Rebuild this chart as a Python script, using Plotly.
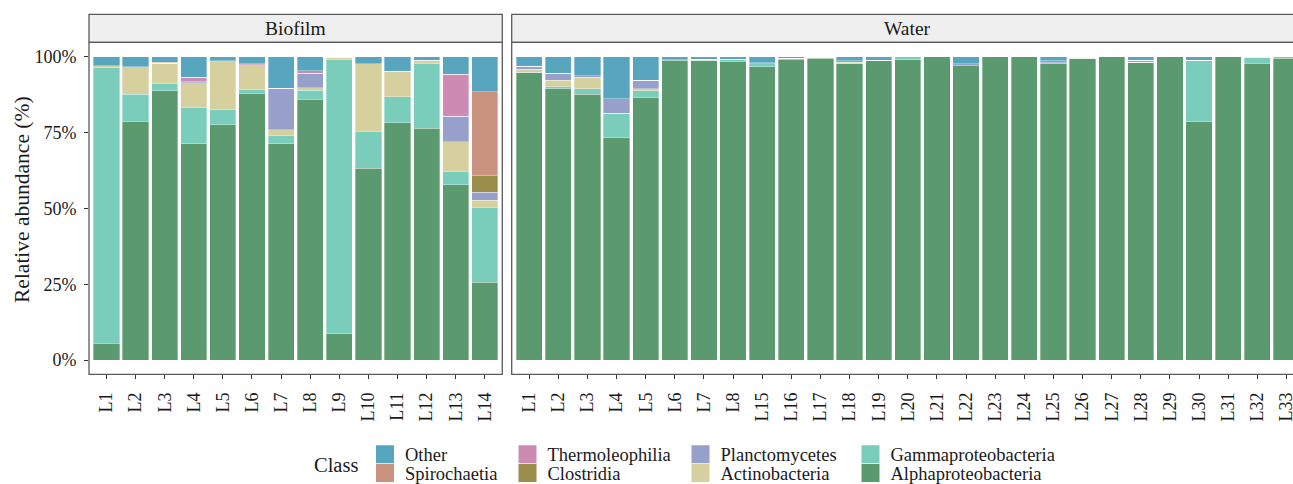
import plotly.graph_objects as go

# ---------------- data ----------------
classes = ["Alphaproteobacteria", "Gammaproteobacteria", "Actinobacteria", "Planctomycetes",
           "Clostridia", "Thermoleophilia", "Spirochaetia", "Other"]
colors = {
    "Alphaproteobacteria": "#5B9A6E",
    "Gammaproteobacteria": "#7BCDBB",
    "Actinobacteria": "#D6D09F",
    "Planctomycetes": "#979FCB",
    "Clostridia": "#9A8D4A",
    "Thermoleophilia": "#CD8BB4",
    "Spirochaetia": "#C9937F",
    "Other": "#58A5C0",
}

bio_samples = ["L1", "L2", "L3", "L4", "L5", "L6", "L7", "L8", "L9", "L10", "L11", "L12", "L13", "L14"]
bio_alpha = [5.5, 78.8, 88.7, 71.3, 77.6, 88.0, 71.3, 86.0, 8.6, 63.3, 78.2, 76.4, 57.8, 25.7]
bio_gamma = [91.0, 8.9, 2.4, 12.1, 5.1, 1.1, 2.8, 2.9, 90.4, 11.9, 8.6, 21.4, 4.2, 24.6]
bio_actino = [0.6, 9.0, 6.7, 8.0, 15.9, 8.2, 1.9, 0.8, 0.8, 22.4, 8.4, 0.9, 9.9, 2.4]
bio_plancto = [0, 0, 0, 0.3, 0, 0, 13.6, 4.8, 0, 0, 0, 0, 8.5, 2.6]
bio_clostr = [0, 0, 0, 0, 0, 0, 0, 0, 0, 0, 0, 0, 0, 5.4]
bio_thermo = [0, 0, 0, 1.6, 0, 0.3, 0, 0.8, 0, 0, 0, 0.2, 13.8, 0]
bio_spiro = [0, 0, 0.3, 0, 0, 0, 0, 0, 0, 0, 0, 0, 0, 27.7]
bio_other = [2.9, 3.3, 1.9, 6.7, 1.4, 2.4, 10.4, 4.7, 0.2, 2.4, 4.8, 1.1, 5.8, 11.6]

wat_samples = ["L1", "L2", "L3", "L4", "L5", "L6", "L7", "L8", "L15", "L16", "L17", "L18", "L19",
               "L20", "L21", "L22", "L23", "L24", "L25", "L26", "L27", "L28", "L29", "L30", "L31",
               "L32", "L33"]
wat_alpha = [94.8, 89.5, 87.7, 73.3, 86.4, 98.8, 98.8, 98.5, 96.7, 99.0, 99.5, 97.6, 98.6,
             99.0, 100, 97.1, 100, 100, 97.7, 99.5, 100, 98.2, 100, 78.5, 100, 97.8, 99.5]
wat_gamma = [0, 0.6, 1.8, 8.1, 2.3, 0.2, 0, 0.6, 0.9, 0, 0.3, 0, 0.3,
             1.0, 0, 0, 0, 0, 0.3, 0, 0, 0, 0, 20.1, 0, 2.0, 0.5]
wat_actino = [1.1, 2.2, 3.7, 0, 0.8, 0, 0.4, 0, 0, 0, 0, 0.6, 0,
              0, 0, 0, 0, 0, 0, 0, 0, 0, 0, 0.3, 0, 0, 0]
wat_plancto = [1.0, 2.2, 0.6, 4.8, 2.8, 0, 0, 0, 0.4, 0.5, 0, 0.5, 0,
               0, 0, 0.6, 0, 0, 0.6, 0.3, 0, 0.6, 0, 0, 0, 0.2, 0]
wat_clostr = [0] * 27
wat_thermo = [0] * 27
wat_spiro = [0] * 27
wat_other = [3.1, 5.5, 6.2, 13.8, 7.7, 1.0, 0.8, 0.9, 2.0, 0.5, 0.2, 1.3, 1.1,
             0, 0, 2.3, 0, 0, 1.4, 0.2, 0, 1.2, 0, 1.1, 0, 0, 0]

bio_values = {"Alphaproteobacteria": bio_alpha, "Gammaproteobacteria": bio_gamma,
              "Actinobacteria": bio_actino, "Planctomycetes": bio_plancto,
              "Clostridia": bio_clostr, "Thermoleophilia": bio_thermo,
              "Spirochaetia": bio_spiro, "Other": bio_other}
wat_values = {"Alphaproteobacteria": wat_alpha, "Gammaproteobacteria": wat_gamma,
              "Actinobacteria": wat_actino, "Planctomycetes": wat_plancto,
              "Clostridia": wat_clostr, "Thermoleophilia": wat_thermo,
              "Spirochaetia": wat_spiro, "Other": wat_other}

y_ticks = [0, 25, 50, 75, 100]
y_ticktext = ["0%", "25%", "50%", "75%", "100%"]

# legend layout: column-major order as in the reference
legend_order = ["Other", "Spirochaetia", "Thermoleophilia", "Clostridia",
                "Planctomycetes", "Actinobacteria", "Gammaproteobacteria", "Alphaproteobacteria"]

# ---------------- geometry (pixels) ----------------
W, H = 1293, 484
FONT = "'Liberation Serif', 'Times New Roman', Times, serif"
TXT = "#1a1a1a"
BORDER = "#5a5a5a"

def px_x(p):
    return p / W

def px_y(p):
    return 1 - p / H

bio_x0, bio_x1 = 89.0, 502.3
wat_x0, wat_x1 = 511.7, 1303.9
pan_top, pan_bot = 42.3, 374.3
strip_top = 14.3

fig = go.Figure()

legend_names = ["legend"] + ["legend%d" % i for i in range(2, 9)]
leg_of = {c: legend_names[i] for i, c in enumerate(legend_order)}

for c in classes:
    fig.add_trace(go.Bar(
        x=bio_samples, y=bio_values[c], name=c, marker_color=colors[c],
        marker_line=dict(color="rgba(255,255,255,0.55)", width=0.6),
        xaxis="x", yaxis="y", showlegend=False, width=0.9,
    ))
    fig.add_trace(go.Bar(
        x=wat_samples, y=wat_values[c], name=c, marker_color=colors[c],
        marker_line=dict(color="rgba(255,255,255,0.55)", width=0.6),
        xaxis="x2", yaxis="y2", showlegend=False, width=0.9,
    ))

# legend keys (square swatches like ggplot's legend keys)
for c in legend_order:
    fig.add_trace(go.Scatter(
        x=[None], y=[None], mode="markers", name=c,
        marker=dict(symbol="square", size=16, color=colors[c],
                    line=dict(color=colors[c], width=2)),
        xaxis="x", yaxis="y", legend=leg_of[c], showlegend=True,
    ))

# legends: one per entry, placed on a 2x4 grid
col_centers = [385.0, 527.5, 700.5, 870.5]
row_centers = [454.6, 473.4]
leg_layout = {}
for i, c in enumerate(legend_order):
    col, row = i // 2, i % 2
    leg_layout[legend_names[i]] = dict(
        x=px_x(col_centers[col] - 20), xanchor="left",
        y=px_y(row_centers[row]), yanchor="middle",
        orientation="v", bgcolor="rgba(0,0,0,0)", borderwidth=0,
        font=dict(family=FONT, size=18.5, color=TXT),
        itemsizing="trace", tracegroupgap=0,
    )

axis_common = dict(showgrid=False, zeroline=False, showline=False)

fig.update_layout(
    width=W, height=H,
    margin=dict(l=0, r=0, t=0, b=0, autoexpand=False),
    paper_bgcolor="white", plot_bgcolor="white",
    barmode="stack", bargap=0.1,
    font=dict(family=FONT, color=TXT),
    xaxis=dict(domain=[px_x(bio_x0), px_x(bio_x1)], anchor="y", type="category",
               categoryorder="array", categoryarray=bio_samples,
               range=[-0.6, len(bio_samples) - 1 + 0.6],
               ticks="outside", ticklen=4, tickcolor="#333", tickwidth=1,
               tickangle=-90, tickfont=dict(family=FONT, size=18, color=TXT),
               ticklabelstandoff=6, automargin=False, **axis_common),
    xaxis2=dict(domain=[px_x(wat_x0), 1.0], anchor="y2", type="category",
                categoryorder="array", categoryarray=wat_samples,
                range=[-0.6, -0.6 + (W - wat_x0) / ((wat_x1 - wat_x0) / (len(wat_samples) - 1 + 1.2))],
                ticks="outside", ticklen=4, tickcolor="#333", tickwidth=1,
                tickangle=-90, tickfont=dict(family=FONT, size=18, color=TXT),
                ticklabelstandoff=6, automargin=False, **axis_common),
    yaxis=dict(domain=[px_y(pan_bot), px_y(pan_top)], anchor="x",
               range=[-4.71, 104.75], tickvals=y_ticks, ticktext=y_ticktext,
               ticks="outside", ticklen=4, tickcolor="#333", tickwidth=1,
               tickfont=dict(family=FONT, size=18, color=TXT),
               ticklabelstandoff=4, automargin=False, **axis_common),
    yaxis2=dict(domain=[px_y(pan_bot), px_y(pan_top)], anchor="x2", matches="y",
                range=[-4.71, 104.75], showticklabels=False, ticks="", automargin=False,
                **axis_common),
    **leg_layout,
)

shapes = []
for x0, x1 in [(bio_x0, bio_x1), (wat_x0, wat_x1)]:
    # strip
    shapes.append(dict(type="rect", xref="paper", yref="paper",
                       x0=px_x(x0), x1=px_x(x1), y0=px_y(pan_top), y1=px_y(strip_top),
                       fillcolor="#EFEFEF", line=dict(color=BORDER, width=1.3), layer="above"))
    # panel border
    shapes.append(dict(type="rect", xref="paper", yref="paper",
                       x0=px_x(x0), x1=px_x(x1), y0=px_y(pan_bot), y1=px_y(pan_top),
                       fillcolor="rgba(0,0,0,0)", line=dict(color=BORDER, width=1.3), layer="above"))
fig.update_layout(shapes=shapes)

annotations = [
    dict(text="Biofilm", x=px_x((bio_x0 + bio_x1) / 2), y=px_y((strip_top + pan_top) / 2),
         xref="paper", yref="paper", showarrow=False, xanchor="center", yanchor="middle",
         font=dict(family=FONT, size=19.5, color=TXT)),
    dict(text="Water", x=px_x((wat_x0 + wat_x1) / 2), y=px_y((strip_top + pan_top) / 2),
         xref="paper", yref="paper", showarrow=False, xanchor="center", yanchor="middle",
         font=dict(family=FONT, size=19.5, color=TXT)),
    dict(text="Relative abundance (%)", x=px_x(22), y=px_y(200), textangle=-90,
         xref="paper", yref="paper", showarrow=False, xanchor="center", yanchor="middle",
         font=dict(family=FONT, size=21.5, color=TXT)),
    dict(text="Class", x=px_x(312), y=px_y(464.5),
         xref="paper", yref="paper", showarrow=False, xanchor="left", yanchor="middle",
         font=dict(family=FONT, size=20.5, color=TXT)),
]
fig.update_layout(annotations=annotations)

fig.write_html("out.html")
